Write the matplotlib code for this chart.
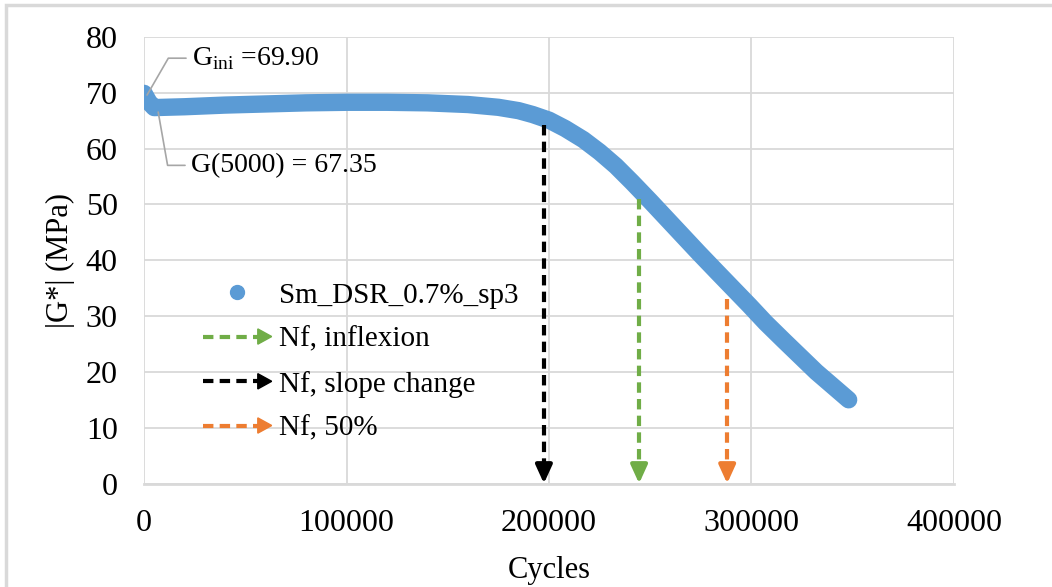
import matplotlib
matplotlib.use("Agg")
import matplotlib.pyplot as plt
from matplotlib.lines import Line2D
from matplotlib.patches import Polygon, Rectangle
from matplotlib.legend_handler import HandlerBase

plt.rcParams['font.family'] = ['Liberation Serif', 'DejaVu Serif']

# Datos
cycles = [0, 2500, 5000, 10000, 20000, 40000, 60000, 80000, 100000, 120000,
          140000, 160000, 175000, 185000, 192000, 200000, 208000, 217000,
          225000, 233000, 241000, 250000, 258000, 266000, 274000, 283000,
          291000, 299000, 307000, 316000, 324000, 332000, 340000, 348000]
g_star = [69.9, 68.3, 67.35, 67.4, 67.5, 67.8, 68.0, 68.2, 68.3, 68.3,
          68.2, 67.9, 67.4, 66.8, 66.1, 65.1, 63.6, 61.6,
          59.4, 56.9, 54.0, 50.6, 47.5, 44.4, 41.3, 37.9,
          34.9, 31.9, 28.8, 25.6, 22.8, 20.0, 17.5, 15.0]

nf_labels = ["Nf, inflexion", "Nf, slope change", "Nf, 50%"]
nf_cycles = [244500, 197500, 288000]
nf_g = [51.0, 64.3, 33.0]
nf_colors = ["#70AD47", "#000000", "#ED7D31"]

g_ini = 69.90
g_5000 = 67.35

blue = "#5B9BD5"
grey = "#D9D9D9"
dash = (0, (2.5, 1.5))


class HandlerArrow(HandlerBase):
    def create_artists(self, legend, orig_handle, xdescent, ydescent,
                       width, height, fontsize, trans):
        y = height / 2 - ydescent
        x0 = -xdescent
        x1 = width - xdescent
        hw = 10
        line = Line2D([x0, x1 - hw], [y, y], color=orig_handle.get_color(),
                      lw=3, linestyle=dash, transform=trans)
        head = Polygon([[x1 - hw, y - 5.5], [x1 - hw, y + 5.5], [x1, y]],
                       closed=True, color=orig_handle.get_color(),
                       transform=trans)
        return [line, head]


fig = plt.figure(figsize=(10.52, 5.87), dpi=100)
ax = fig.add_axes([0.1369, 0.1763, 0.7699, 0.7607])

# borde exterior
fig.patches.append(Rectangle((6 / 1052, -0.1), 1.2, 1.1 - 5 / 587,
                             transform=fig.transFigure, fill=False,
                             edgecolor=grey, lw=2.5))

ax.plot(cycles, g_star, color=blue, lw=12.5, solid_capstyle='round',
        solid_joinstyle='round', zorder=3)

# flechas Nf: trazo discontinuo + punta sólida
for x, y, c in zip(nf_cycles, nf_g, nf_colors):
    ax.plot([x, x], [y, 3.0], color=c, lw=3, linestyle=dash, zorder=4)
    ax.annotate("", xy=(x, 0), xytext=(x, 3.2),
                arrowprops=dict(arrowstyle="-|>,head_length=1.1,head_width=0.5",
                                color=c, lw=3, shrinkA=0, shrinkB=0),
                zorder=4)

# etiquetas de G
ax.annotate(r"G$_{\mathregular{ini}}$ =%.2f" % g_ini, xy=(1500, g_ini - 0.3),
            xytext=(23500, 76.2), fontsize=20, va='center',
            arrowprops=dict(arrowstyle="-", color="#A6A6A6", lw=1.2,
                            connectionstyle="angle,angleA=0,angleB=60,rad=0",
                            shrinkA=2, shrinkB=0), zorder=5)
ax.annotate("G(5000) = %.2f" % g_5000, xy=(7000, g_5000 - 0.8),
            xytext=(23000, 57.0), fontsize=20, va='center',
            arrowprops=dict(arrowstyle="-", color="#A6A6A6", lw=1.2,
                            connectionstyle="angle,angleA=0,angleB=-80,rad=0",
                            shrinkA=2, shrinkB=0), zorder=5)

ax.set_xlim(0, 400000)
ax.set_ylim(0, 80)
ax.set_xticks([0, 100000, 200000, 300000, 400000])
ax.set_yticks(range(0, 81, 10))
ax.tick_params(length=0, labelsize=23)
ax.tick_params(axis='x', pad=18)
ax.tick_params(axis='y', pad=19)
ax.grid(True, color=grey, lw=1.3, zorder=0)
ax.set_axisbelow(True)
for s in ['top', 'right', 'left']:
    ax.spines[s].set_visible(False)
ax.spines['bottom'].set_color(grey)
ax.spines['bottom'].set_linewidth(2)

ax.set_xlabel("Cycles", fontsize=22, labelpad=13)
ax.set_ylabel("|G*| (MPa)", fontsize=22, labelpad=8)

handles = [Line2D([], [], color=blue, marker='o', markersize=10, ls='none')]
handles += [Line2D([], [], color=c) for c in nf_colors]
labels = ["Sm_DSR_0.7%_sp3"] + nf_labels
ax.legend(handles, labels, handler_map={h: HandlerArrow() for h in handles[1:]},
          loc='upper left', bbox_to_anchor=(0.073, 0.451), frameon=False,
          fontsize=21, handlelength=2.35, handletextpad=0.25,
          labelspacing=0.61, borderpad=0, borderaxespad=0)

fig.savefig("out.png", dpi=100)
